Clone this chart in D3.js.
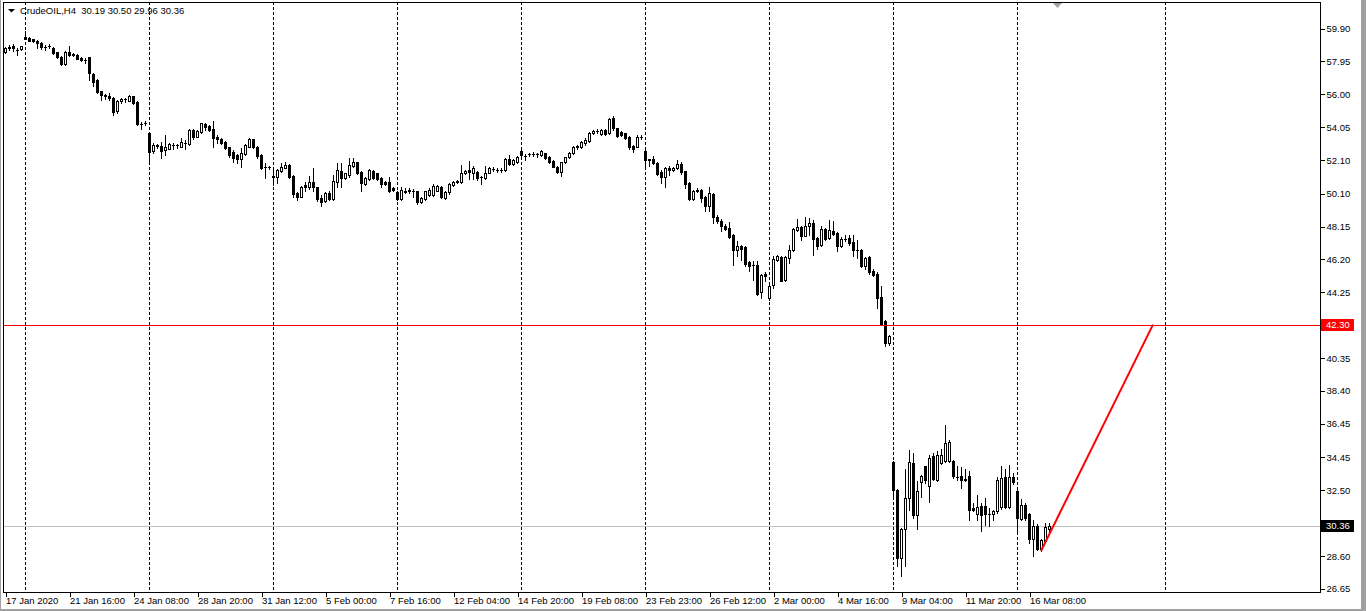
<!DOCTYPE html>
<html><head><meta charset="utf-8">
<script src="https://cdn.jsdelivr.net/npm/d3@7/dist/d3.min.js"></script>
<style>
html,body{margin:0;padding:0;background:#fff;overflow:hidden}
svg{display:block}
text{font-family:"Liberation Sans",Arial,sans-serif;font-size:9.5px;fill:#000}
</style></head><body>
<svg id="chart" width="1366" height="611"></svg>
<script>
const symbol = "CrudeOIL,H4";
const lastQuote = [30.19, 30.50, 29.96, 30.36];

const open = [
58.50,58.76,58.83,58.59,58.63,59.38,59.31,59.23,59.15,59.03,
58.80,58.83,58.71,58.48,58.20,57.76,58.50,58.36,58.28,58.14,
58.00,58.16,57.17,56.82,56.16,55.90,55.89,55.77,55.00,55.57,
55.67,55.59,55.87,55.53,54.21,54.24,53.65,52.63,52.92,52.90,
52.67,52.74,52.96,52.97,52.86,53.06,53.02,53.85,53.46,53.75,
54.21,54.09,53.91,53.42,53.30,53.14,52.82,52.57,52.37,52.11,
52.43,52.86,53.30,52.86,52.35,51.68,51.64,51.09,51.05,51.44,
51.62,51.78,51.12,50.10,49.90,50.59,50.45,50.79,50.45,49.84,
49.64,50.10,49.76,50.79,51.44,50.99,51.18,51.74,51.92,51.38,
50.65,50.93,51.44,51.28,50.99,50.79,50.79,50.39,50.14,49.74,
50.20,50.25,50.20,50.20,49.60,49.76,50.00,50.00,50.25,50.49,
49.80,50.14,50.59,50.79,50.79,51.28,51.48,51.32,51.38,51.05,
50.99,51.32,51.54,51.48,51.48,51.48,52.11,51.84,51.97,52.61,
52.33,52.41,52.43,52.41,52.37,52.47,52.27,52.01,51.68,51.38,
51.92,52.23,52.47,52.86,52.86,53.06,53.22,53.65,53.79,53.59,
53.85,53.65,54.54,53.95,53.75,53.65,53.46,52.90,52.86,53.42,
52.61,52.10,52.12,51.88,51.33,51.05,51.58,51.45,51.58,51.84,
51.39,50.73,49.77,50.26,50.30,49.87,49.31,50.06,48.68,48.42,
48.17,48.03,47.63,46.70,46.98,46.88,45.99,45.83,45.85,44.21,
45.32,43.88,44.67,46.15,46.31,44.92,46.25,46.70,47.89,48.09,
47.57,48.13,48.32,47.43,47.04,47.97,47.43,47.87,47.73,46.98,
47.40,47.43,47.18,46.75,46.74,45.79,46.29,45.46,45.32,43.94,
42.49,41.21,34.15,32.51,28.46,30.14,31.98,34.09,30.99,32.94,
33.89,32.71,34.49,33.10,34.09,34.19,34.19,34.23,33.27,33.30,
33.12,33.34,31.42,31.03,31.56,31.56,31.07,31.03,31.23,31.48,
33.26,31.48,33.24,32.45,30.77,31.62,31.03,29.55,30.34,28.99,
29.45,30.19];

const high = [
58.75,58.89,58.95,58.69,58.85,59.72,59.35,59.27,59.19,59.07,
58.89,58.93,58.75,58.50,58.24,58.55,58.83,58.40,58.34,58.20,
58.10,58.20,57.21,56.86,56.18,55.97,56.03,55.83,55.63,55.73,
55.73,55.93,55.89,55.57,54.35,54.37,53.69,53.06,53.02,53.16,
53.55,53.06,53.06,53.02,53.36,53.26,53.93,53.89,53.85,54.29,
54.29,54.17,54.40,53.56,53.36,53.18,52.86,52.67,52.43,52.76,
53.02,53.38,53.34,52.90,52.41,51.88,51.72,51.48,51.52,51.91,
51.97,51.82,51.16,50.14,50.53,50.79,51.13,51.58,50.49,50.00,
50.14,50.20,51.18,51.88,51.88,51.32,52.17,52.17,51.97,51.42,
51.08,51.52,51.48,51.32,51.05,50.85,51.08,50.45,50.20,50.45,
50.39,50.39,50.33,50.25,49.90,50.25,50.39,50.65,50.59,50.53,
50.20,50.69,50.85,50.89,51.78,51.48,52.01,51.72,51.44,51.13,
51.72,51.68,51.64,51.58,51.62,52.17,52.37,52.11,52.31,52.67,
52.41,52.51,52.57,52.51,52.67,52.51,52.31,52.07,51.72,51.97,
52.27,52.57,52.90,52.96,53.22,53.36,53.75,53.85,53.89,53.89,
53.89,54.54,54.70,53.99,53.81,53.69,53.50,52.96,53.56,53.56,
52.67,52.14,52.28,51.92,51.49,51.64,51.72,51.68,52.08,51.92,
51.43,50.79,50.30,50.40,50.34,49.94,50.46,50.10,48.82,48.56,
48.28,48.36,47.69,47.24,47.04,46.94,46.05,46.05,46.05,45.32,
45.40,44.67,46.35,46.45,46.39,46.35,47.04,48.03,48.56,48.13,
48.68,48.62,48.52,47.49,48.17,48.03,48.48,48.42,47.77,47.49,
47.63,47.63,47.63,47.30,46.78,46.31,46.35,45.60,45.40,44.61,
42.59,41.70,34.19,32.55,30.24,33.70,34.88,34.68,33.00,33.40,
33.93,34.58,34.68,34.78,34.92,36.36,35.43,34.29,33.89,33.85,
33.70,33.60,31.72,32.21,31.72,32.02,31.42,31.32,33.26,33.89,
33.70,33.99,33.50,32.61,31.96,31.72,31.09,30.73,30.44,29.55,
30.50,30.50];

const low = [
58.44,58.59,58.55,58.28,58.59,59.22,59.13,59.09,58.69,58.63,
58.59,58.69,58.36,58.10,57.69,57.71,58.24,58.24,58.04,57.96,
57.80,56.82,56.46,56.06,55.63,55.67,55.63,54.74,54.88,55.47,
55.53,55.55,55.39,54.15,53.89,54.17,52.03,52.47,52.76,52.17,
52.37,52.70,52.72,52.76,52.82,52.70,52.96,53.30,53.42,53.69,
53.85,53.81,52.82,53.06,53.02,52.70,52.27,51.97,51.87,51.68,
52.37,52.82,52.76,52.17,51.52,50.99,51.52,50.59,50.69,51.38,
51.58,50.99,49.90,49.70,49.86,50.20,50.33,50.25,49.64,49.35,
49.60,49.70,49.70,50.49,50.45,50.93,51.05,51.68,51.24,50.25,
50.59,50.89,50.93,50.89,50.45,50.59,50.14,50.25,49.70,49.70,
50.10,50.10,49.90,49.45,49.51,49.70,49.94,49.94,50.20,49.80,
49.74,50.06,50.53,50.69,50.73,51.24,50.93,50.93,50.89,50.65,
50.93,51.28,51.44,51.38,51.38,51.44,51.78,51.78,51.91,52.31,
52.07,52.31,52.31,52.27,52.31,52.11,51.88,51.64,51.32,51.13,
51.88,52.17,52.43,52.71,52.76,52.96,53.16,53.59,53.65,53.55,
53.55,53.59,53.85,53.46,53.50,53.30,52.71,52.57,52.82,53.30,
51.72,51.72,51.84,51.19,50.73,50.44,51.19,51.39,51.53,51.25,
50.40,49.71,49.71,50.14,49.55,49.02,49.02,48.32,48.32,47.83,
47.89,47.43,45.85,46.35,46.15,45.75,45.46,44.96,44.07,43.88,
44.87,43.78,44.47,46.05,44.86,44.86,45.95,46.64,47.83,47.30,
47.53,47.63,46.45,46.78,46.98,47.30,47.37,47.63,46.64,46.90,
47.24,47.04,46.35,46.25,45.71,45.60,45.32,45.16,43.28,42.30,
41.05,41.11,31.92,27.96,27.37,27.96,31.32,30.83,30.18,32.07,
32.91,31.76,33.06,33.00,34.00,34.13,34.13,33.20,33.06,32.61,
33.00,30.73,31.23,30.73,30.04,30.38,30.34,30.73,31.09,31.36,
31.42,31.42,32.81,30.04,30.73,30.73,29.31,28.56,28.91,28.85,
29.39,29.96];

const close = [
58.69,58.74,58.69,58.60,58.83,59.25,59.15,59.13,58.99,58.75,
58.78,58.84,58.44,58.16,57.76,58.50,58.30,58.28,58.08,58.00,
57.99,57.21,56.72,56.12,55.93,55.89,55.73,54.94,55.59,55.69,
55.68,55.87,55.43,54.19,54.20,54.25,52.57,52.96,52.93,52.63,
52.82,53.02,52.97,52.96,53.16,53.07,53.85,53.46,53.79,54.25,
54.05,53.85,53.36,53.30,53.10,52.76,52.37,52.17,52.11,52.51,
52.94,53.30,52.82,52.31,51.58,51.67,51.63,51.08,51.48,51.68,
51.78,51.08,50.04,49.90,50.45,50.45,50.79,50.45,49.74,49.60,
50.10,49.76,50.83,51.48,50.99,51.28,51.78,51.92,51.32,50.69,
50.99,51.48,50.99,50.93,50.65,50.65,50.25,50.29,49.74,50.29,
50.19,50.26,50.21,49.60,49.80,50.20,50.29,50.53,50.53,49.86,
50.16,50.65,50.79,50.80,51.32,51.44,51.38,51.62,50.99,51.04,
51.32,51.58,51.55,51.49,51.50,52.11,51.84,52.07,52.23,52.35,
52.32,52.42,52.44,52.40,52.61,52.17,51.92,51.68,51.38,51.93,
52.23,52.47,52.82,52.87,53.12,53.26,53.65,53.79,53.80,53.85,
53.59,54.48,53.95,53.50,53.56,53.36,52.82,52.71,53.42,53.43,
52.04,52.08,51.88,51.25,51.05,51.58,51.45,51.58,51.84,51.33,
50.66,49.77,50.24,50.20,49.81,49.31,50.10,48.66,48.42,48.13,
47.99,47.49,46.70,46.98,46.78,45.91,45.79,45.84,44.13,45.26,
45.20,44.61,46.19,46.35,44.90,46.29,46.74,47.97,48.09,47.57,
48.17,48.32,47.37,46.98,47.97,47.37,47.93,47.67,46.94,47.39,
47.39,47.14,46.74,46.74,45.79,46.25,45.40,45.26,43.88,42.36,
41.21,41.64,32.51,28.46,30.14,31.98,34.15,30.99,32.45,33.34,
33.10,34.39,33.14,34.58,34.58,35.28,35.32,33.30,33.26,33.10,
33.10,31.32,31.32,31.48,30.99,31.03,31.06,31.23,33.10,33.20,
31.48,33.26,32.96,30.83,31.62,30.83,29.55,30.34,28.99,29.51,
30.28,30.36];

const priceTicks = [59.90,57.95,56.00,54.05,52.10,50.10,48.15,46.20,44.25,42.30,40.35,38.40,36.45,34.45,32.50,30.55,28.60,26.65];
const dateIdx = [0,16,32,48,64,80,96,112,128,144,160,176,192,208,224,240,256];
const dateLabels = ["17 Jan 2020","21 Jan 16:00","24 Jan 08:00","28 Jan 20:00","31 Jan 12:00","5 Feb 00:00","7 Feb 16:00","12 Feb 04:00","14 Feb 20:00","19 Feb 08:00","23 Feb 23:00","26 Feb 12:00","2 Mar 00:00","4 Mar 16:00","9 Mar 04:00","11 Mar 20:00","16 Mar 08:00"];
const gridIdx = [5,36,67,98,129,160,191,222,253,290];
const levelPrice = 42.30;
const bidPrice = 30.36;
const trendFrom = [259, 28.86];
const trendTo = [287, 42.30];
const shiftMarkIdx = 263;

// ---------- layout ----------
const L = 3, T = 2, R = 1320, B = 592;
const svg = d3.select("#chart");
const x = d3.scaleLinear().domain([0, 261]).range([5, 1049]);
const y = d3.scaleLinear().domain([26.65, 59.90]).range([588.3, 28]);
const px = i => Math.round(x(i));
const py = p => Math.round(y(p));

// outer window greys
svg.append("rect").attr("x",0).attr("y",0).attr("width",1366).attr("height",611).attr("fill","#fff");
svg.append("rect").attr("x",0).attr("y",0).attr("width",1).attr("height",611).attr("fill","#a0a0a0");
svg.append("rect").attr("x",1361).attr("y",0).attr("width",5).attr("height",611).attr("fill","#a0a0a0");
svg.append("rect").attr("x",0).attr("y",609).attr("width",1366).attr("height",2).attr("fill","#a0a0a0");

const plot = svg.append("g").attr("shape-rendering","crispEdges");

// vertical dashed grid
plot.append("g").selectAll("line").data(gridIdx).join("line")
  .attr("x1", d => px(d)+0.5).attr("x2", d => px(d)+0.5)
  .attr("y1", T).attr("y2", B)
  .attr("stroke","#000").attr("stroke-width",1).attr("stroke-dasharray","3,2");

// bid line
plot.append("rect").attr("x",L).attr("width",R-L).attr("y",py(bidPrice)).attr("height",1).attr("fill","#c0c0c0");

// candles
const bars = d3.range(open.length).map(i => ({i, o:open[i], h:high[i], l:low[i], c:close[i]}));
const cg = plot.append("g");
cg.append("g").selectAll("rect").data(bars).join("rect")
  .attr("x", d => px(d.i)).attr("width",1)
  .attr("y", d => py(d.h)).attr("height", d => Math.max(1, py(d.l)-py(d.h)+1))
  .attr("fill","#000");
cg.append("g").selectAll("rect").data(bars).join("rect")
  .each(function(d){
    const top = py(Math.max(d.o,d.c)), bot = py(Math.min(d.o,d.c));
    const s = d3.select(this);
    if (d.c < d.o) {
      s.attr("x", px(d.i)-1).attr("width",3).attr("y",top).attr("height",Math.max(1,bot-top+1)).attr("fill","#000");
    } else if (bot - top < 1) {
      s.attr("x", px(d.i)-1).attr("width",3).attr("y",top).attr("height",1).attr("fill","#000");
    } else {
      s.attr("x", px(d.i)-0.5).attr("width",2).attr("y",top+0.5).attr("height",bot-top)
       .attr("fill","#fff").attr("stroke","#000").attr("stroke-width",1);
    }
  });

// horizontal level (red)
plot.append("rect").attr("x",L).attr("width",R-L).attr("y",py(levelPrice)).attr("height",1).attr("fill","#ff0000");

// trend line
svg.append("line")
  .attr("x1", x(trendFrom[0])).attr("y1", y(trendFrom[1]))
  .attr("x2", x(trendTo[0])).attr("y2", y(trendTo[1]))
  .attr("stroke","#ff0000").attr("stroke-width",2);

// frame
svg.append("path").attr("d",`M${L+0.5},${B+0.5}V${T+0.5}H${R+0.5}V${B+0.5}H${L+0.5}`)
  .attr("fill","none").attr("stroke","#000").attr("stroke-width",1).attr("shape-rendering","crispEdges");

// chart shift marker
svg.append("path").attr("d",`M${px(shiftMarkIdx)-4},3H${px(shiftMarkIdx)+5}L${px(shiftMarkIdx)+0.5},8Z`).attr("fill","#a0a0a0");

// price axis
const yAxis = d3.axisRight(y).tickValues(priceTicks).tickSize(4).tickPadding(2).tickFormat(d3.format(".2f"));
const ya = svg.append("g").attr("transform",`translate(${R+0.5},0.5)`).call(yAxis);
ya.select(".domain").remove();
ya.attr("font-size",null).attr("font-family",null);
ya.selectAll("text").attr("x",6).attr("dy","0.33em");
ya.selectAll("line").attr("shape-rendering","crispEdges");

// price labels (level + bid)
function priceTag(p, bg, fg){
  const g = svg.append("g");
  g.append("rect").attr("x",R+1).attr("y",py(p)-6).attr("width",33).attr("height",12).attr("fill",bg);
  g.append("text").attr("x",R+6).attr("y",py(p)).attr("dy","0.35em").style("fill",fg).text(d3.format(".2f")(p));
}
priceTag(levelPrice,"#ff0000","#fff");
priceTag(bidPrice,"#000","#fff");

// time axis
const xAxis = d3.axisBottom(x).tickValues(dateIdx).tickSize(4).tickFormat((d,k) => dateLabels[k]);
const xa = svg.append("g").attr("transform",`translate(0.5,${B+0.5})`).call(xAxis);
xa.select(".domain").remove();
xa.attr("font-size",null).attr("font-family",null);
xa.selectAll("line").attr("shape-rendering","crispEdges");
xa.selectAll("text").attr("text-anchor","start").attr("x",0).attr("y",5).attr("dy","0.71em");

// title
svg.append("path").attr("d","M8,9H15L11.5,12.5Z").attr("fill","#000");
svg.append("text").attr("x",20).attr("y",14).style("white-space","pre")
  .text(`${symbol}  ${lastQuote.map(d3.format(".2f")).join(" ")}`);
</script>
</body></html>
